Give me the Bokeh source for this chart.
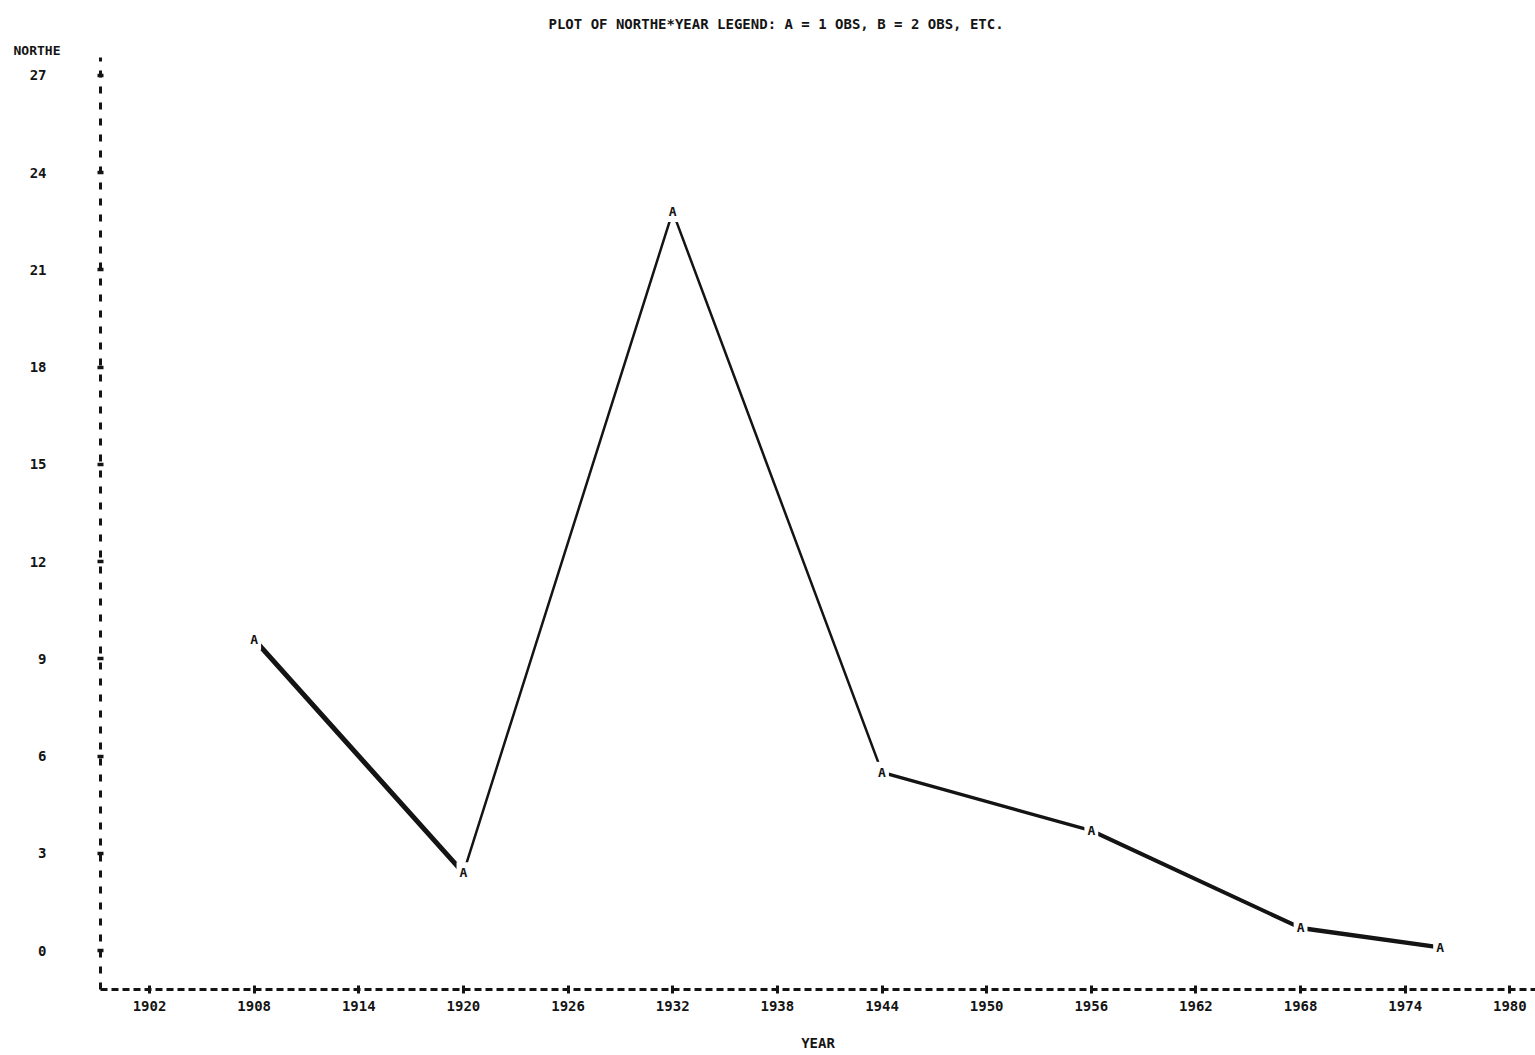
from bokeh.plotting import figure
from bokeh.models import FixedTicker, Range1d, Title
from bokeh.embed import file_html
from bokeh.resources import INLINE
from bokeh.core.properties import value

# Observations: year and NORTHE count
years = [1908, 1920, 1932, 1944, 1956, 1968, 1976]
northe = [9.6, 2.4, 22.8, 5.5, 3.7, 0.7, 0.1]

# Axis tick positions
year_ticks = [1902, 1908, 1914, 1920, 1926, 1932, 1938, 1944, 1950, 1956, 1962, 1968, 1974, 1980]
northe_ticks = [0, 3, 6, 9, 12, 15, 18, 21, 24, 27]

# Pen widths of the hand-drawn connecting strokes (one per segment)
seg_widths = [5, 2.5, 2.5, 3.5, 4, 4.5]

INK = "#141414"
MONO = "DejaVu Sans Mono"

p = figure(
    width=1535, height=1055,
    output_backend="svg", toolbar_location=None,
    x_range=Range1d(1899.19, 1981.47), y_range=Range1d(-1.2, 27.555),
    min_border_left=100, min_border_right=0,
    min_border_top=57, min_border_bottom=66,
)
p.background_fill_color = "white"
p.border_fill_color = "white"
p.outline_line_color = None
p.xgrid.visible = False
p.ygrid.visible = False

# plot heading (outermost title)
p.title.text = "PLOT OF NORTHE*YEAR    LEGEND: A = 1 OBS, B = 2 OBS, ETC."
p.title.align = "left"
p.title.offset = 448
p.title.text_font = MONO
p.title.text_font_style = "bold"
p.title.text_font_size = "14px"
p.title.text_color = INK
p.title.standoff = 18

# variable name printed above the vertical axis
p.add_layout(Title(text="NORTHE", align="left", offset=-87,
                   text_font=MONO, text_font_style="bold", text_font_size="13px",
                   text_color=INK, standoff=0), "above")

# connecting strokes
p.segment(x0=years[:-1], y0=northe[:-1], x1=years[1:], y1=northe[1:],
          line_width=seg_widths, line_color=INK, line_cap="round")

# plotting symbol "A" (1 obs) at each point
p.text(x=years, y=northe, text=["A"] * len(years),
       text_font=value(MONO), text_font_style="bold", text_font_size="13px",
       text_color=INK, text_align="center", text_baseline="middle",
       background_fill_color="white", padding=3)

# line-printer style axes
xa = p.xaxis[0]
xa.ticker = FixedTicker(ticks=year_ticks)
xa.axis_line_color = INK
xa.axis_line_width = 3
xa.axis_line_dash = "7 4"
xa.major_tick_in = 4
xa.major_tick_out = 4
xa.major_tick_line_width = 3
xa.major_tick_line_color = INK
xa.minor_tick_line_color = None
xa.major_label_text_font = MONO
xa.major_label_text_font_style = "bold"
xa.major_label_text_font_size = "14px"
xa.major_label_text_color = INK
xa.major_label_standoff = 7
xa.axis_label = "YEAR"
xa.axis_label_text_font = MONO
xa.axis_label_text_font_style = "bold"
xa.axis_label_text_font_size = "14px"
xa.axis_label_text_color = INK
xa.axis_label_standoff = 21

ya = p.yaxis[0]
ya.ticker = FixedTicker(ticks=northe_ticks)
ya.axis_line_color = INK
ya.axis_line_width = 3
ya.axis_line_dash = "7 9"
ya.major_tick_in = 3
ya.major_tick_out = 3
ya.major_tick_line_width = 3.5
ya.major_tick_line_color = INK
ya.minor_tick_line_color = None
ya.major_label_text_font = MONO
ya.major_label_text_font_style = "bold"
ya.major_label_text_font_size = "14px"
ya.major_label_text_color = INK
ya.major_label_standoff = 51

open("out.html", "w").write(file_html(p, INLINE))
